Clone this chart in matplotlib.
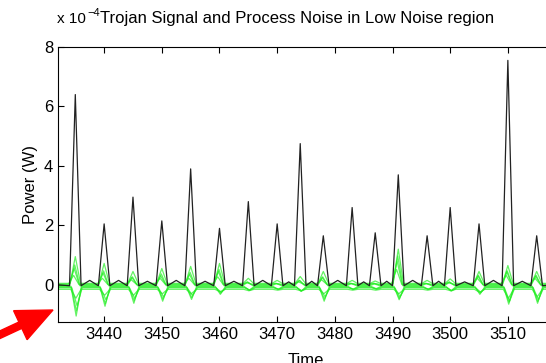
import matplotlib
matplotlib.use("Agg")
import matplotlib.pyplot as plt
from matplotlib.patches import FancyArrow
from matplotlib.transforms import IdentityTransform
import numpy as np

# Trojan signal: peak times and heights (x 1e-4 W)
peak_times = [3435, 3440, 3445, 3450, 3455, 3460, 3465, 3470, 3474,
              3478, 3483, 3487, 3491, 3496, 3500, 3505, 3510, 3515]
peak_heights = [6.4, 2.05, 2.95, 2.15, 3.9, 1.9, 2.8, 2.05, 4.75,
                1.65, 2.6, 1.75, 3.7, 1.65, 2.6, 2.05, 7.55, 1.65]
# small side bumps between successive peaks
bump_heights = [0.15, 0.15, 0.12, 0.15, 0.12, 0.12, 0.15, 0.1,
                0.12, 0.15, 0.1, 0.12, 0.15, 0.12, 0.1, 0.15, 0.12]

# process noise traces, value at each peak time
noise_traces = [
    [0.9, 0.67, 0.4, 0.5, 0.57, 0.67, 0.17, 0.1, 0.23, 0.4, 0.1, 0.08, 1.15, 0.1, 0.15, 0.4, 0.6, 0.4],
    [-1.0, -0.67, -0.57, -0.5, -0.44, -0.27, -0.13, -0.1, -0.17, -0.5, -0.1, -0.08, -0.45, -0.1, -0.15, -0.27, -0.6, -0.57],
    [0.55, 0.4, 0.25, 0.3, 0.35, 0.45, 0.1, 0.05, 0.15, 0.25, 0.05, 0.05, 0.8, 0.05, 0.1, 0.3, 0.45, 0.3],
    [-0.6, -0.4, -0.35, -0.3, -0.25, -0.15, -0.08, -0.05, -0.1, -0.3, -0.05, -0.05, -0.3, -0.05, -0.1, -0.15, -0.45, -0.4],
    [0.3, 0.2, 0.15, 0.2, 0.2, 0.25, 0.05, 0.03, 0.08, 0.15, 0.03, 0.03, 0.5, 0.03, 0.05, 0.2, 0.3, 0.2],
    [-0.3, -0.2, -0.2, -0.15, -0.15, -0.08, -0.05, -0.03, -0.05, -0.15, -0.03, -0.03, -0.15, -0.03, -0.05, -0.1, -0.3, -0.25],
    [0.7, 0.5, 0.3, 0.4, 0.45, 0.55, 0.12, 0.07, 0.18, 0.3, 0.07, 0.06, 1.0, 0.07, 0.12, 0.35, 0.5, 0.35],
    [-0.8, -0.55, -0.45, -0.4, -0.35, -0.2, -0.1, -0.07, -0.13, -0.4, -0.07, -0.06, -0.38, -0.07, -0.12, -0.2, -0.5, -0.48],
]
noise_base = [0.05, -0.05, 0.0, -0.1, 0.02, -0.15, -0.03, -0.08]
noise_shift = [0.0, 0.15, -0.2, 0.3, -0.3, 0.1, -0.1, 0.2]

plt.rcParams['font.family'] = ['Liberation Sans', 'DejaVu Sans']

fig = plt.figure(figsize=(5.46, 3.63), dpi=100)
ax = fig.add_axes([58/546, 1-322/363, (554-58)/546, (322-47)/363])

# green noise traces
for tr, b, s in zip(noise_traces, noise_base, noise_shift):
    xs = [3432]
    ys = [b]
    for t, v in zip(peak_times, tr):
        xs += [t-0.9+s, t+s, t+0.9+s]
        ys += [b, b+v, b]
    xs.append(3518)
    ys.append(b)
    ax.plot(xs, ys, color='#22ee22', lw=0.9, alpha=0.7)

# black trojan signal
xs = [3432]
ys = [0.0]
for i, (t, h) in enumerate(zip(peak_times, peak_heights)):
    xs += [t-1, t, t+1]
    ys += [-0.03, h, -0.03]
    if i < len(bump_heights):
        mid = (t + peak_times[i+1]) / 2
        xs.append(mid)
        ys.append(bump_heights[i])
xs.append(3518)
ys.append(0.0)
ax.plot(xs, ys, color='#222222', lw=0.9)

ax.set_xlim(3432, 3518)
ax.set_ylim(-1.25, 8)
ax.set_xticks(np.arange(3440, 3511, 10))
ax.set_yticks([0, 2, 4, 6, 8])
ax.spines['right'].set_visible(False)
ax.tick_params(direction='in', top=True, labelsize=12, length=4)
ax.set_xlabel('Time', fontsize=12, labelpad=8)
ax.set_ylabel('Power (W)', fontsize=12)

fig.text(57/546, 1-19/363, 'x 10', fontsize=11, va='center', ha='left')
fig.text(87/546, 1-13/363, '\u22124', fontsize=8, va='center', ha='left')
fig.text(297/546, 1-18/363, 'Trojan Signal and Process Noise in Low Noise region',
         fontsize=12, va='center', ha='center')

# red arrow pointing at the bottom-left corner
fig.add_artist(FancyArrow(-5, 26, 58, 27, width=7, head_width=32, head_length=36,
                          length_includes_head=True, color='red',
                          transform=IdentityTransform()))

fig.savefig('out.png', dpi=100)
